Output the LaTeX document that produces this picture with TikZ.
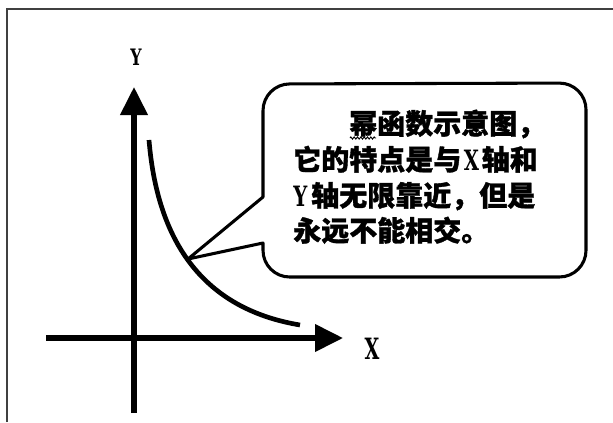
\documentclass[tikz,border=0pt]{standalone}
\usepackage{fontspec}
\newfontfamily\cjk{Noto Sans CJK SC}[BoldFeatures={FakeBold=1.2}]
\newfontfamily\latf{DejaVu Serif}
\usetikzlibrary{arrows.meta,decorations.pathmorphing}
\newcommand{\latX}{{\latf\bfseries\scalebox{0.7}[1]{X}}}
\newcommand{\latY}{{\latf\bfseries\scalebox{0.7}[1]{Y}}}
\begin{document}
\begin{tikzpicture}[x=0.75pt,y=-0.75pt,
  axisline/.style={line width=3.8pt,-{Triangle[length=21pt,width=20pt]}},
  powcurve/.style={line width=3.5pt},
  callout/.style={line width=2.3pt,line join=round},
  framebox/.style={line width=1.1pt,black!75},
  txt/.style={anchor=base west,inner sep=0pt,font=\cjk\bfseries\fontsize{21pt}{25pt}\selectfont},
  axlab/.style={inner sep=0pt}
]
\useasboundingbox (0,0) rectangle (613,422);
% frame
\draw[framebox] (7,422) -- (7,9) -- (613,9);
% axes
\coordinate (ybot) at (134,413);
\coordinate (ytop) at (134,87);
\coordinate (xleft) at (46,338);
\coordinate (xright) at (343,338);
\draw[axisline] (ybot) -- (ytop);
\draw[axisline] (xleft) -- (xright);
\node[axlab,font=\latf\bfseries\fontsize{17pt}{20pt}\selectfont] (ylab) at (136,57) {\scalebox{0.7}[1]{Y}};
\node[axlab,font=\latf\bfseries\fontsize{22pt}{26pt}\selectfont] (xlab) at (372,349) {\scalebox{0.65}[1]{X}};
% power curve
\coordinate (c0) at (149,140);
\coordinate (c1) at (300,325);
\draw[powcurve] (c0) .. controls (158,250) and (210,310) .. (c1);
% callout
\coordinate (tip) at (188,259);
\draw[callout] (tip) -- (263,197) [rounded corners=20pt] -- (263,84) -- (586,83) -- (586,277) -- (263,277) [sharp corners] -- (263,243) -- cycle;
% text
\node[txt] (l1) at (349,134) {幂函数示意图，};
\node[txt] (l2) at (293,170) {它的特点是与\hspace{2pt}\latX\hspace{2pt}轴和};
\node[txt] (l3) at (293,206) {\latY\hspace{3pt}轴无限靠近，但是};
\node[txt] (l4) at (293,241) {永远不能相交。};
\draw[line width=0.7pt,decorate,decoration={zigzag,amplitude=0.8pt,segment length=2.5pt}] (350,138) -- (376,138);
\end{tikzpicture}
\end{document}
